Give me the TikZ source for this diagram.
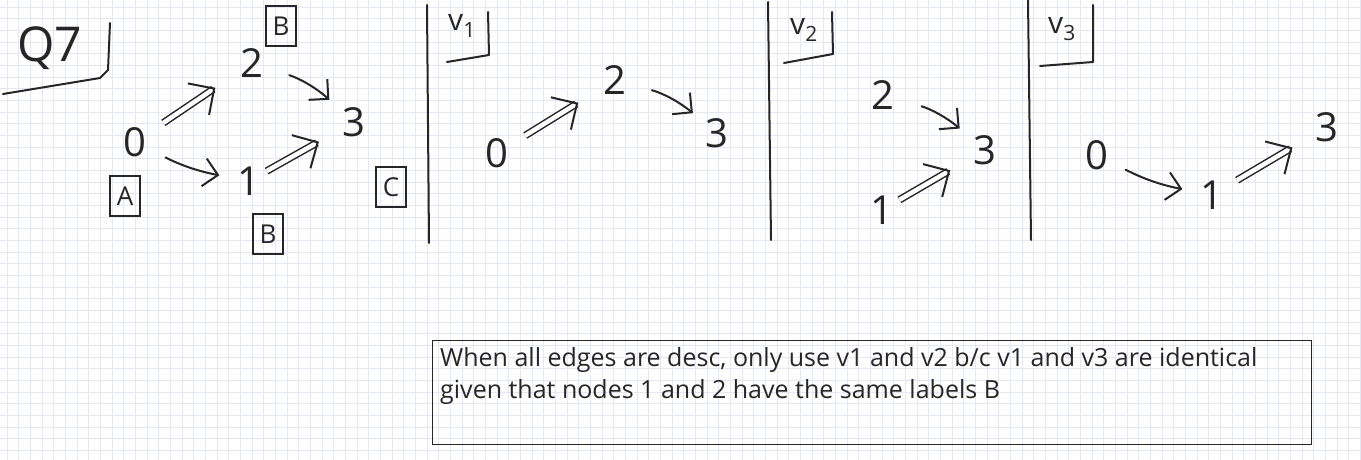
\documentclass[tikz,border=0pt]{standalone}
\usepackage{fontspec}
\setmainfont{Open Sans}
\usetikzlibrary{arrows.meta, positioning}
\definecolor{gridc}{RGB}{229,232,244}
\definecolor{ink}{RGB}{38,38,38}
\tikzstyle{vtx} = [circle, minimum size=40pt, inner sep=0pt, text=ink,
font=\fontsize{40}{40}\selectfont]
\tikzstyle{lbl} = [draw=ink, line width=1.3pt, minimum width=30pt,
minimum height=40pt, inner sep=0pt, text=ink,
font=\fontsize{26}{26}\selectfont]
\tikzstyle{single} = [ink, line width=2pt, line cap=round,
-{Straight Barb[length=14pt, width=28pt]}]
\tikzstyle{dbl} = [ink, line width=1.5pt, double distance=4.5pt,
-{Straight Barb[length=19pt, width=38pt, line width=2pt]}]

\begin{document}
\begin{tikzpicture}[
        x=1pt, y=-1pt,
        gridline/.style={gridc, line width=0.9pt},
        stroke/.style={ink, line width=2pt, line cap=round, line join=round},
        title/.style={text=ink, inner sep=0pt},
    ]
        \useasboundingbox (0,0) rectangle (1361,460);
        \fill[white] (0,0) rectangle (1361,460);
        \foreach \gx in {7,18.667,...,1361} \draw[gridline] (\gx,0) -- (\gx,460);
        \foreach \gy in {7,18.667,...,460} \draw[gridline] (0,\gy) -- (1361,\gy);

        % Q7 graph
        \node[title, font=\fontsize{48}{48}\selectfont] (qtitle) at (50,48) {Q7};
        \draw[stroke] (110,23) -- (108,70) -- (100,78) -- (3,94);
        \node[vtx] (q0) at (135,142) {0};
        \node[vtx] (q2) at (252,63) {2};
        \node[vtx] (q3) at (354,122) {3};
        \node[vtx] (q1) at (249,181) {1};
        \node[lbl] (labA) at (125,196) {A};
        \node[lbl] (labB2) at (281,26) {B};
        \node[lbl] (labB1) at (268,234) {B};
        \node[lbl] (labC) at (391,187) {C};
        \draw[dbl, shorten <=14pt, shorten >=24pt] (q0) -- (q2);
        \draw[single, shorten <=19pt, shorten >=13pt] (q2) to[bend left=12] (q3);
        \draw[single, shorten <=14pt, shorten >=10pt] (q0) to[bend right=8] (q1);
        \draw[dbl, shorten <=0pt, shorten >=20pt] (q1) -- (q3);
        \draw[stroke] (427,5) -- (429,243);

        % v1
        \node[title, font=\fontsize{30}{30}\selectfont] (vatitle) at (462,26) {v\textsubscript{1}};
        \draw[stroke] (488,12) -- (489,55) -- (447,62);
        \node[vtx] (va0) at (497,153) {0};
        \node[vtx] (va2) at (615,80) {2};
        \node[vtx] (va3) at (717,133) {3};
        \draw[dbl, shorten <=13pt, shorten >=23pt] (va0) -- (va2);
        \draw[single, shorten <=18pt, shorten >=11pt] (va2) to[bend left=12] (va3);
        \draw[stroke] (768,2) -- (771,240);

        % v2
        \node[title, font=\fontsize{30}{30}\selectfont] (vbtitle) at (804,30) {v\textsubscript{2}};
        \draw[stroke] (832,12) -- (833,54) -- (784,63);
        \node[vtx] (vb2) at (883,95) {2};
        \node[vtx] (vb3) at (985,150) {3};
        \node[vtx] (vb1) at (882,210) {1};
        \draw[single, shorten <=20pt, shorten >=13pt] (vb2) to[bend left=12] (vb3);
        \draw[dbl, shorten <=0pt, shorten >=20pt] (vb1) -- (vb3);
        \draw[stroke] (1028,0) -- (1031,240);

        % v3
        \node[title, font=\fontsize{30}{30}\selectfont] (vctitle) at (1062,29) {v\textsubscript{3}};
        \draw[stroke] (1093,5) -- (1093,62) -- (1040,66);
        \node[vtx] (vc0) at (1097,155) {0};
        \node[vtx] (vc1) at (1212,195) {1};
        \node[vtx] (vc3) at (1327,127) {3};
        \draw[single, shorten <=12pt, shorten >=10pt] (vc0) to[bend right=8] (vc1);
        \draw[dbl, shorten <=9pt, shorten >=20pt] (vc1) -- (vc3);

        % note
        \draw[ink, line width=1pt] (432,340) rectangle (1311,444);
        \node[anchor=north west, align=left, inner sep=0pt, text=ink,
            font=\fontsize{25}{32}\selectfont] (note) at (440,347) {When all edges are desc, only use v1 and v2 b/c v1 and v3 are identical\\
            given that nodes 1 and 2 have the same labels B};
    \end{tikzpicture}
\end{document}
